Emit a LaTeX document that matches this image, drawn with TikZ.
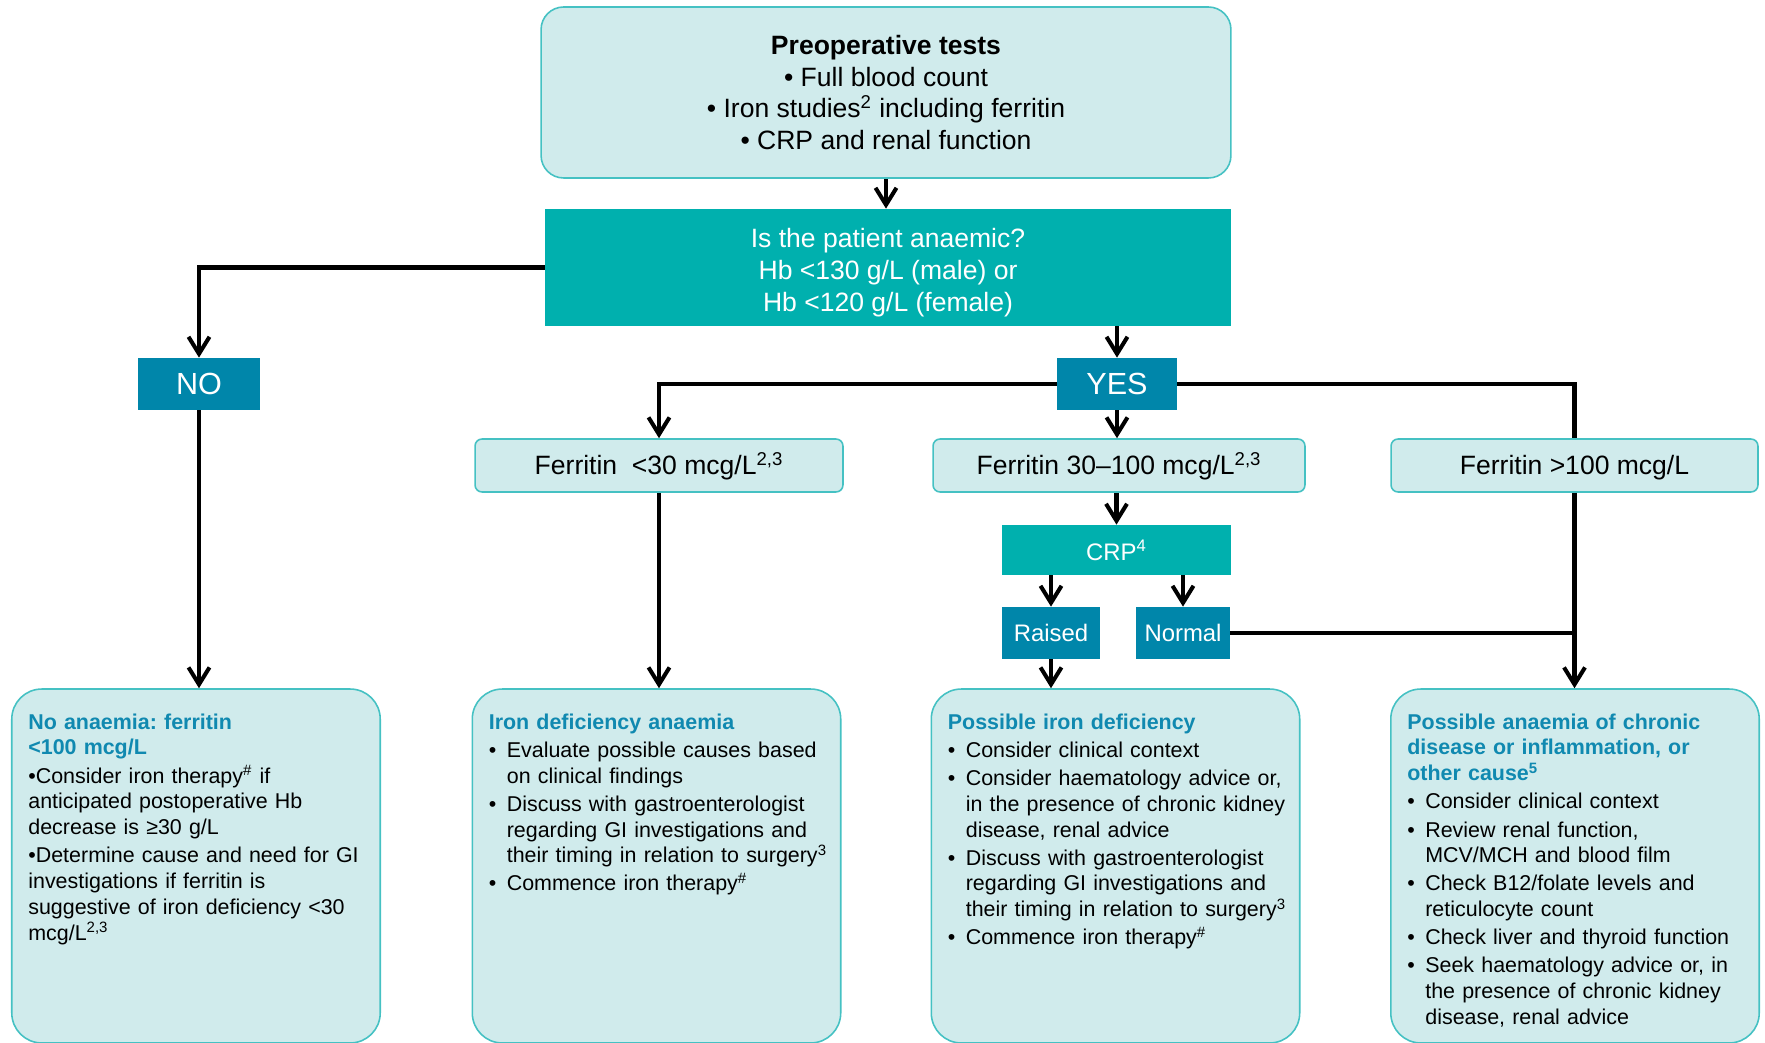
\documentclass[tikz,border=0pt]{standalone}
\usepackage{fontspec}
\setmainfont{Liberation Sans}
\usetikzlibrary{arrows.meta}
\definecolor{palefill}{HTML}{D0EBEC}
\definecolor{paleline}{HTML}{45C1C3}
\definecolor{tealbox}{HTML}{00B0AE}
\definecolor{deepblue}{HTML}{0086AA}
\definecolor{headblue}{HTML}{1089B0}
\newcommand{\bul}[1]{\par\noindent\hangindent=0.36cm\hangafter=1\makebox[0.36cm][l]{•}#1\par}
\newcommand{\heading}[1]{{\color{headblue}\bfseries #1}}
\newcommand{\tstrut}{\rule[-0.212em]{0pt}{1.117em}}

\begin{document}
\begin{tikzpicture}[x=0.02cm,y=-0.02cm,>={Straight Barb[length=0.34cm,width=0.42cm]},
  flow/.style={line width=2.3pt},
  pale/.style={draw=paleline,fill=palefill,line width=0.9pt,inner sep=0pt,align=center},
  filled/.style={fill=#1,text=white,inner sep=0pt,align=center},
  big/.style={font=\fontsize{15.1}{18.1}\selectfont},
  small/.style={font=\fontsize{13.6}{16}\selectfont},
  notes/.style={anchor=north west,inner sep=0pt,text width=6.9cm,align=left,
    font=\fontsize{12.2}{14.7}\selectfont\frenchspacing\setlength{\parskip}{1.3pt}},
  result/.style={pale,rounded corners=0.6cm,minimum width=7.37cm,minimum height=7.08cm}]
\useasboundingbox (0,0) rectangle (1765,1043);

\node[pale,big,rounded corners=0.45cm,minimum width=13.8cm,minimum height=3.42cm] (tests) at (886,92.5)
  {\textbf{Preoperative tests}\\• Full blood count\\• Iron studies\textsuperscript{2} including ferritin\\• CRP and renal function};
\node[filled=tealbox,big,minimum width=13.72cm,minimum height=2.34cm] (anaemic) at (888,267.5)
  {\rule{0pt}{1.1em}Is the patient anaemic?\\Hb <130 g/L (male) or\\Hb <120 g/L (female)};
\node[filled=deepblue,font=\fontsize{17.4}{20}\selectfont,minimum width=2.44cm,minimum height=1.04cm] (no) at (199,384) {NO};
\node[filled=deepblue,font=\fontsize{17.4}{20}\selectfont,minimum width=2.4cm,minimum height=1.04cm] (yes) at (1117,384) {YES};

\node[pale,big,rounded corners=0.14cm,minimum width=7.36cm,minimum height=1.06cm] (ferlow) at (659,465.5) {\tstrut Ferritin\ \ <30 mcg/L\textsuperscript{2,3}};
\node[pale,big,rounded corners=0.14cm,minimum width=7.44cm,minimum height=1.06cm] (fermid) at (1119,465.5) {\tstrut Ferritin 30--100 mcg/L\textsuperscript{2,3}};
\node[pale,big,rounded corners=0.14cm,minimum width=7.34cm,minimum height=1.06cm] (ferhigh) at (1574.5,465.5) {\tstrut Ferritin >100 mcg/L};

\node[filled=tealbox,small,minimum width=4.58cm,minimum height=1cm] (crp) at (1116.5,550) {CRP\textsuperscript{4}};
\node[filled=deepblue,small,minimum width=1.96cm,minimum height=1.04cm] (raised) at (1051,633) {\tstrut Raised};
\node[filled=deepblue,small,minimum width=1.88cm,minimum height=1.04cm] (normal) at (1183,633) {\tstrut Normal};

\node[result] (noanae) at (196,866) {};
\node[result] (ida) at (656.5,866) {};
\node[result] (pid) at (1115.5,866) {};
\node[result] (acd) at (1575,866) {};

\node[notes] at ([shift={(17,25)}]noanae.north west)
  {\heading{No anaemia: ferritin\newline <100 mcg/L}
   \par\noindent•Consider iron therapy\textsuperscript{\#} if\newline anticipated postoperative Hb\newline decrease is ≥30 g/L
   \par\noindent•Determine cause and need for GI\newline investigations if ferritin is\newline suggestive of iron deficiency <30\newline mcg/L\textsuperscript{2,3}\par};
\node[notes] at ([shift={(17,25)}]ida.north west)
  {\heading{Iron deficiency anaemia}
   \bul{Evaluate possible causes based\newline on clinical findings}
   \bul{Discuss with gastroenterologist\newline regarding GI investigations and\newline their timing in relation to surgery\textsuperscript{3}}
   \bul{Commence iron therapy\textsuperscript{\#}}};
\node[notes] at ([shift={(17,25)}]pid.north west)
  {\heading{Possible iron deficiency}
   \bul{Consider clinical context}
   \bul{Consider haematology advice or,\newline in the presence of chronic kidney\newline disease, renal advice}
   \bul{Discuss with gastroenterologist\newline regarding GI investigations and\newline their timing in relation to surgery\textsuperscript{3}}
   \bul{Commence iron therapy\textsuperscript{\#}}};
\node[notes] at ([shift={(17,25)}]acd.north west)
  {\heading{Possible anaemia of chronic\newline disease or inflammation, or\newline other cause\textsuperscript{5}}
   \bul{Consider clinical context}
   \bul{Review renal function,\newline MCV/MCH and blood film}
   \bul{Check B12/folate levels and\newline reticulocyte count}
   \bul{Check liver and thyroid function}
   \bul{Seek haematology advice or, in\newline the presence of chronic kidney\newline disease, renal advice}};

\draw[flow,->] (tests.south) -- (tests.south |- anaemic.north);
\draw[flow,->] (anaemic.west) -| (no.north);
\draw[flow,->] (anaemic.south -| yes.north) -- (yes.north);
\draw[flow,->] (yes.west) -| (ferlow.north);
\draw[flow,->] (yes.south) -- (yes.south |- fermid.north);
\draw[flow] (yes.east) -| (ferhigh.north);
\draw[flow,->] (fermid.south -| crp.north) -- (crp.north);
\draw[flow,->] (crp.south -| raised.north) -- (raised.north);
\draw[flow,->] (crp.south -| normal.north) -- (normal.north);
\coordinate (join) at (ferhigh.south |- normal.east);
\draw[flow] (normal.east) -- (join);
\draw[flow,->] (ferhigh.south) -- (ferhigh.south |- acd.north);
\draw[flow,->] (no.south) -- (no.south |- noanae.north);
\draw[flow,->] (ferlow.south) -- (ferlow.south |- ida.north);
\draw[flow,->] (raised.south) -- (raised.south |- pid.north);
\end{tikzpicture}
\end{document}
